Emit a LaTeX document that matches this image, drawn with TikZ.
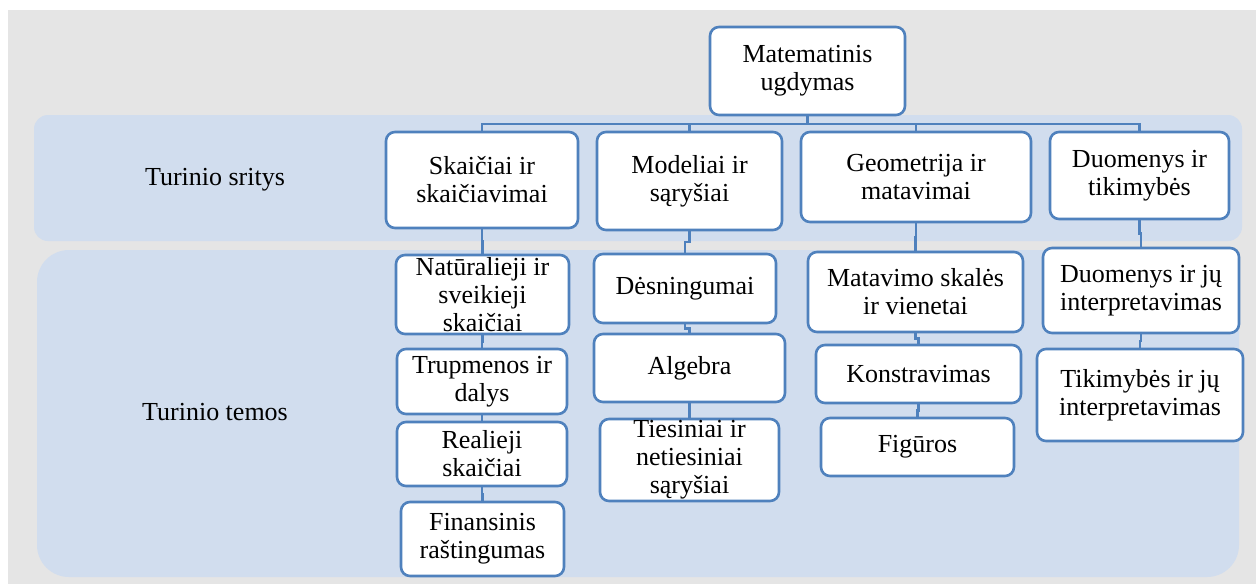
\documentclass[tikz,border=0pt]{standalone}
\usepackage{fontspec}
\setmainfont{Liberation Serif}
\usetikzlibrary{positioning,calc}
\definecolor{pagegray}{RGB}{229,229,229}
\definecolor{bandblue}{RGB}{209,221,238}
\definecolor{boxblue}{RGB}{79,129,189}
\newcommand{\link}[2]{\draw[link] (#1.south) |- ($(#1.south)!.5!(#2.north)$) -| (#2.north);}
\begin{document}
\begin{tikzpicture}[x=0.5pt,y=-0.5pt,
  tbox/.style={draw=boxblue,line width=1.3pt,fill=white,rounded corners=4.5pt,
    align=center,inner sep=0pt,font=\fontsize{13}{14}\selectfont},
  link/.style={draw=boxblue,line width=1.2pt},
  lbl/.style={font=\fontsize{13}{14}\selectfont}]
\useasboundingbox (0,0) rectangle (1256,584);
% background and bands
\fill[pagegray] (8,10) rectangle (1256,584);
\fill[bandblue,rounded corners=7pt] (34,115) rectangle (1242,241);
\fill[bandblue,rounded corners=16pt] (37,250) rectangle (1239,577);
\node[lbl] (sritys) at (215,180) {Turinio sritys};
\node[lbl] (temos) at (215,412) {Turinio temos};
% root and areas
\node[tbox,minimum width=97.5pt,minimum height=44pt] (root) at (807.5,71) {Matematinis\\ugdymas};
\node[tbox,minimum width=96pt,minimum height=48pt] (skai) at (482,180) {Skaičiai ir\\skaičiavimai};
\node[tbox,minimum width=92.5pt,minimum height=49pt] (modl) at (689.5,181) {Modeliai ir\\sąryšiai};
\node[tbox,minimum width=115pt,minimum height=45pt] (geom) at (916,177) {Geometrija ir\\matavimai};
\node[tbox,minimum width=89.5pt,minimum height=43.5pt] (duom) at (1139.5,175.5) {Duomenys ir\\tikimybės};
\coordinate (bus) at (807.5,124);
\draw[link] (root.south) -- (bus);
\foreach \n in {skai,modl,geom,duom}
  \draw[link] (bus) -| (\n.north);
% topics
\node[tbox,minimum width=86.5pt,minimum height=39.5pt] (natu) at (482.5,294.5) {Natūralieji ir\\sveikieji\\skaičiai};
\node[tbox,minimum width=85pt,minimum height=32.5pt] (trup) at (482,381.5) {Trupmenos ir\\dalys};
\node[tbox,minimum width=85pt,minimum height=32pt] (real) at (482,454) {Realieji\\skaičiai};
\node[tbox,minimum width=81.5pt,minimum height=37pt] (fina) at (482.5,539) {Finansinis\\raštingumas};
\node[tbox,minimum width=91pt,minimum height=34.5pt] (desn) at (685,288.5) {Dėsningumai};
\node[tbox,minimum width=95.5pt,minimum height=34pt] (alge) at (689.5,368) {Algebra};
\node[tbox,minimum width=89.5pt,minimum height=41pt] (ties) at (689.5,460) {Tiesiniai ir\\netiesiniai\\sąryšiai};
\node[tbox,minimum width=107.5pt,minimum height=40pt] (mata) at (915.5,292) {Matavimo skalės\\ir vienetai};
\node[tbox,minimum width=102.5pt,minimum height=29pt] (kons) at (918.5,374) {Konstravimas};
\node[tbox,minimum width=96.5pt,minimum height=29pt] (figu) at (917.5,447) {Figūros};
\node[tbox,minimum width=98pt,minimum height=42.5pt] (duji) at (1141,290.5) {Duomenys ir jų\\interpretavimas};
\node[tbox,minimum width=103pt,minimum height=46pt] (tiki) at (1140,395) {Tikimybės ir jų\\interpretavimas};
\link{skai}{natu}
\link{natu}{trup}
\link{trup}{real}
\link{real}{fina}
\link{modl}{desn}
\link{desn}{alge}
\link{alge}{ties}
\link{geom}{mata}
\link{mata}{kons}
\link{kons}{figu}
\link{duom}{duji}
\link{duji}{tiki}
\end{tikzpicture}
\end{document}
